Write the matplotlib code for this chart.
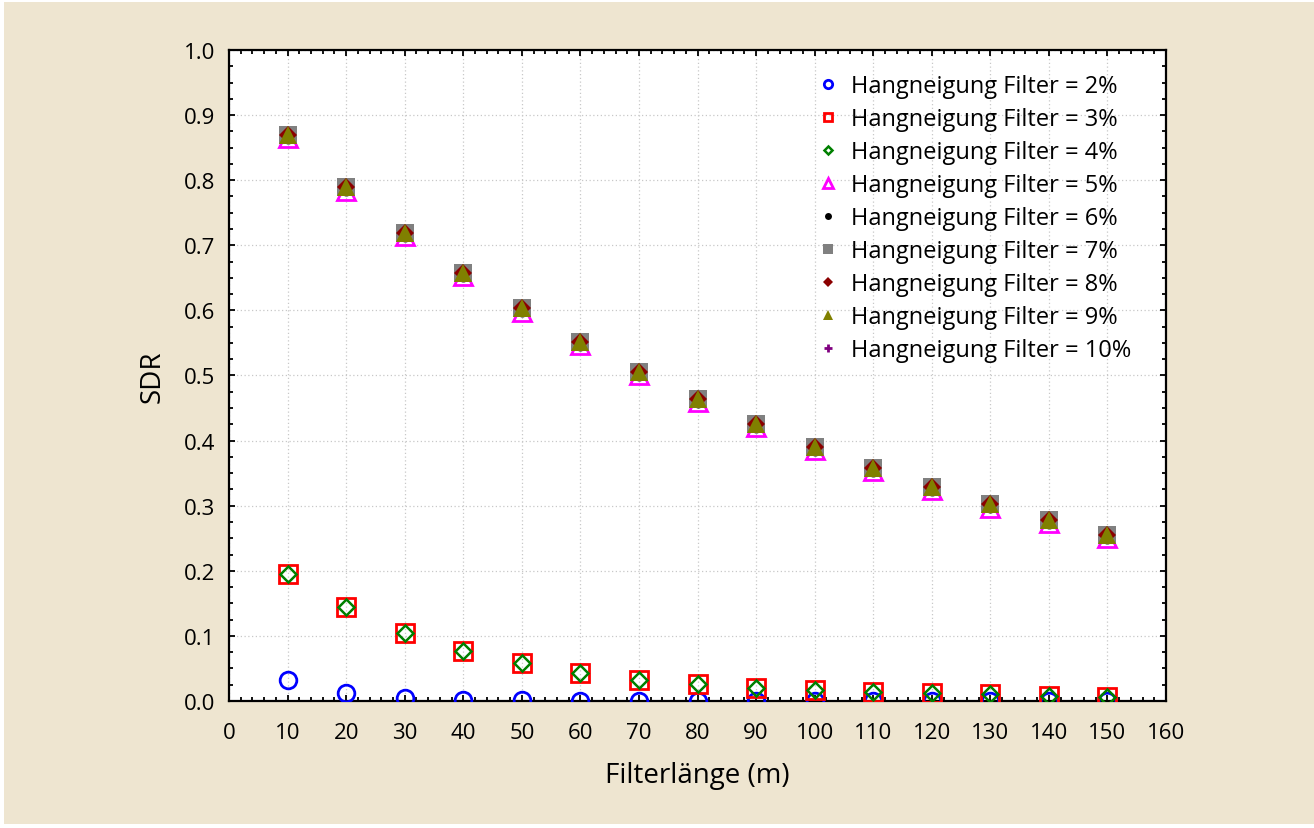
import numpy as np
import matplotlib
matplotlib.use("Agg")
import matplotlib.pyplot as plt
from matplotlib.patches import Rectangle
from matplotlib.ticker import MultipleLocator, FormatStrFormatter

plt.rcParams['font.family'] = ['Open Sans', 'DejaVu Sans']

# Filter length (m)
filter_len = [10, 20, 30, 40, 50, 60, 70, 80, 90, 100, 110, 120, 130, 140, 150]

# SDR per slope class
sdr_2 = [0.032, 0.012, 0.005, 0.002, 0.001, 0.0005, 0.0, 0.0, 0.0, 0.0, 0.0, 0.0, 0.0, 0.0, 0.0]
sdr_3 = [0.195, 0.144, 0.105, 0.077, 0.058, 0.043, 0.033, 0.026, 0.020, 0.017, 0.014, 0.012, 0.010, 0.008, 0.006]
sdr_4 = [0.195, 0.144, 0.105, 0.077, 0.058, 0.043, 0.033, 0.026, 0.020, 0.017, 0.014, 0.012, 0.010, 0.008, 0.006]
sdr_5 = [0.865, 0.784, 0.714, 0.653, 0.598, 0.547, 0.500, 0.459, 0.421, 0.385, 0.353, 0.324, 0.297, 0.273, 0.250]
sdr_6 = [0.867, 0.786, 0.716, 0.655, 0.600, 0.549, 0.502, 0.461, 0.423, 0.387, 0.355, 0.326, 0.299, 0.275, 0.252]
sdr_7 = [0.870, 0.789, 0.719, 0.658, 0.603, 0.552, 0.505, 0.464, 0.426, 0.390, 0.358, 0.329, 0.302, 0.278, 0.255]
sdr_8 = [0.870, 0.789, 0.719, 0.658, 0.603, 0.552, 0.505, 0.464, 0.426, 0.390, 0.358, 0.329, 0.302, 0.278, 0.255]
sdr_9 = [0.870, 0.789, 0.719, 0.658, 0.603, 0.552, 0.505, 0.464, 0.426, 0.390, 0.358, 0.329, 0.302, 0.278, 0.255]
sdr_10 = [0.870, 0.789, 0.719, 0.658, 0.603, 0.552, 0.505, 0.464, 0.426, 0.390, 0.358, 0.329, 0.302, 0.278, 0.255]

labels = ["Hangneigung Filter = %d%%" % s for s in range(2, 11)]

fig = plt.figure(figsize=(13.14, 8.29), dpi=100, facecolor="white")
fig.patches.append(Rectangle((0.003, 0.005), 0.997, 0.991, transform=fig.transFigure,
                             facecolor="#EEE5D0", edgecolor="none", zorder=-10))
ax = fig.add_axes([0.1743, 0.1532, 0.7131, 0.7853])

ax.plot(filter_len, sdr_10, ls="none", marker="+", ms=12, mew=2, color="#800080", label=labels[8], zorder=2)
ax.plot(filter_len, sdr_2, ls="none", marker="o", ms=12, mew=2, mfc="none", mec="blue", label=labels[0], zorder=3)
ax.plot(filter_len, sdr_3, ls="none", marker="s", ms=12.5, mew=2, mfc="none", mec="red", label=labels[1], zorder=3)
ax.plot(filter_len, sdr_4, ls="none", marker="D", ms=8, mew=1.8, mfc="none", mec="green", label=labels[2], zorder=3)
ax.plot(filter_len, sdr_5, ls="none", marker="^", ms=13, mew=2, mfc="none", mec="magenta", label=labels[3], zorder=3)
ax.plot(filter_len, sdr_6, ls="none", marker="o", ms=10, mew=0, color="black", label=labels[4], zorder=3)
ax.plot(filter_len, sdr_7, ls="none", marker="s", ms=13, mew=0, color="#808080", label=labels[5], zorder=3)
ax.plot(filter_len, sdr_8, ls="none", marker="D", ms=9.5, mew=0, color="#8B0000", label=labels[6], zorder=3)
ax.plot(filter_len, sdr_9, ls="none", marker="^", ms=13.5, mew=0, color="#808000", label=labels[7], zorder=3)

ax.set_xlim(0, 160)
ax.set_ylim(0, 1.0)
ax.xaxis.set_major_locator(MultipleLocator(10))
ax.xaxis.set_minor_locator(MultipleLocator(2))
ax.yaxis.set_major_locator(MultipleLocator(0.1))
ax.yaxis.set_minor_locator(MultipleLocator(0.025))
ax.yaxis.set_major_formatter(FormatStrFormatter("%.1f"))

ax.tick_params(which="both", direction="in", top=True, right=True, width=1.3, labelsize=16, pad=10)
ax.tick_params(axis="x", which="major", pad=15)
ax.tick_params(which="major", length=4.5)
ax.tick_params(which="minor", length=3)
for sp in ax.spines.values():
    sp.set_linewidth(1.6)

ax.grid(True, which="major", ls=(0, (1, 2)), color="#c8c8c8", lw=0.9)
ax.set_axisbelow(True)

ax.set_xlabel("Filterlänge (m)", fontsize=20, labelpad=13)
ax.set_ylabel("SDR", fontsize=20, labelpad=12)

# legend in the order of the slope classes
handles, labs = ax.get_legend_handles_labels()
order = [1, 2, 3, 4, 5, 6, 7, 8, 0]
ax.legend([handles[i] for i in order], [labs[i] for i in order],
          loc="upper left", bbox_to_anchor=(0.617, 0.977), frameon=False,
          fontsize=17, markerscale=0.5, handlelength=1.0, handletextpad=0.45,
          labelspacing=0.38, borderaxespad=0.0)

fig.savefig("out.png", dpi=100, facecolor=fig.get_facecolor())
